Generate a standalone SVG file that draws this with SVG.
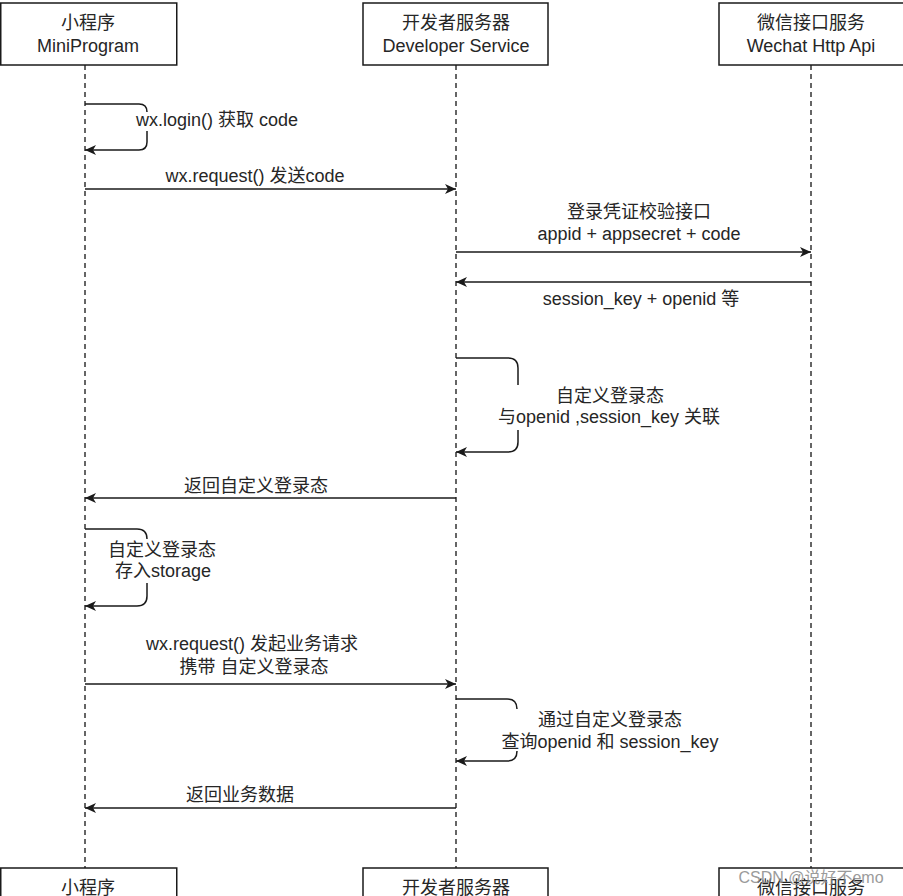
<svg xmlns="http://www.w3.org/2000/svg" width="903" height="896" viewBox="0 0 903 896">
<defs>
<style>
.box{fill:#fff;stroke:#1a1a1a;stroke-width:1.5}
.life{stroke:#333;stroke-width:1.5;stroke-dasharray:5 4;fill:none}
.msg{stroke:#1a1a1a;stroke-width:1.5;fill:none}
text{font-family:"Liberation Sans","Noto Sans CJK SC",sans-serif;font-size:18px;fill:#262626;text-anchor:middle}
.wm{fill:#8a8a8a;font-size:16px;opacity:0.85}
</style>
<marker id="arr" markerWidth="13" markerHeight="12" refX="12" refY="6" orient="auto" markerUnits="userSpaceOnUse">
<path d="M1,1 L12,6 L1,11 L4,6 Z" fill="#1a1a1a"/>
</marker>
</defs>
<rect width="903" height="896" fill="#fff"/>

<g id="lifelines">
<line class="life" x1="85" y1="65" x2="85" y2="868"/>
<line class="life" x1="456" y1="65" x2="456" y2="868"/>
<line class="life" x1="811" y1="65" x2="811" y2="868"/>
</g>

<g id="node-mini-top">
<rect class="box" x="0.75" y="3" width="176" height="62"/>
<text x="88" y="29">小程序</text>
<text x="88" y="52">MiniProgram</text>
</g>
<g id="node-dev-top">
<rect class="box" x="363" y="3" width="185" height="62"/>
<text x="456" y="29">开发者服务器</text>
<text x="456" y="52">Developer Service</text>
</g>
<g id="node-wx-top">
<rect class="box" x="719" y="3" width="185" height="62"/>
<text x="811" y="29">微信接口服务</text>
<text x="811" y="52">Wechat Http Api</text>
</g>

<g id="node-mini-bottom">
<rect class="box" x="0.75" y="868" width="176" height="63"/>
<text x="88" y="894">小程序</text>
</g>
<g id="node-dev-bottom">
<rect class="box" x="363" y="868" width="185" height="63"/>
<text x="456" y="894">开发者服务器</text>
</g>
<g id="node-wx-bottom">
<rect class="box" x="719" y="868" width="185" height="63"/>
<text x="811" y="894">微信接口服务</text>
</g>

<g id="connectors">
<path class="msg" d="M85,104 H139 Q147,104 147,112"/>
<path class="msg" d="M147,131 V142 Q147,150 139,150 H85" marker-end="url(#arr)"/>
<path class="msg" d="M85,189 H456" marker-end="url(#arr)"/>
<path class="msg" d="M456,252 H811" marker-end="url(#arr)"/>
<path class="msg" d="M811,282 H456" marker-end="url(#arr)"/>
<path class="msg" d="M456,358 H508 Q518,358 518,368 V385"/>
<path class="msg" d="M518,430 V442 Q518,452 508,452 H456" marker-end="url(#arr)"/>
<path class="msg" d="M456,498 H85" marker-end="url(#arr)"/>
<path class="msg" d="M85,529 H137 Q147,529 147,539"/>
<path class="msg" d="M147,583 V596 Q147,606 137,606 H85" marker-end="url(#arr)"/>
<path class="msg" d="M85,684 H456" marker-end="url(#arr)"/>
<path class="msg" d="M456,699 H507 Q517,699 517,709"/>
<path class="msg" d="M517,751 Q517,761 507,761 H456" marker-end="url(#arr)"/>
<path class="msg" d="M456,808 H85" marker-end="url(#arr)"/>
</g>

<g id="labels">
<text x="217" y="126">wx.login() 获取 code</text>
<text x="255" y="182">wx.request() 发送code</text>
<text x="639" y="218">登录凭证校验接口</text>
<text x="639" y="240">appid + appsecret + code</text>
<text x="641" y="305">session_key + openid 等</text>
<text x="610" y="402">自定义登录态</text>
<text x="609" y="423">与openid ,session_key 关联</text>
<text x="256" y="492">返回自定义登录态</text>
<text x="162" y="556">自定义登录态</text>
<text x="163" y="577">存入storage</text>
<text x="252" y="650">wx.request() 发起业务请求</text>
<text x="254" y="673">携带 自定义登录态</text>
<text x="610" y="726">通过自定义登录态</text>
<text x="610" y="748">查询openid 和 session_key</text>
<text x="240" y="801">返回业务数据</text>
</g>

<text class="wm" x="811" y="883">CSDN @说好不emo</text>
</svg>
